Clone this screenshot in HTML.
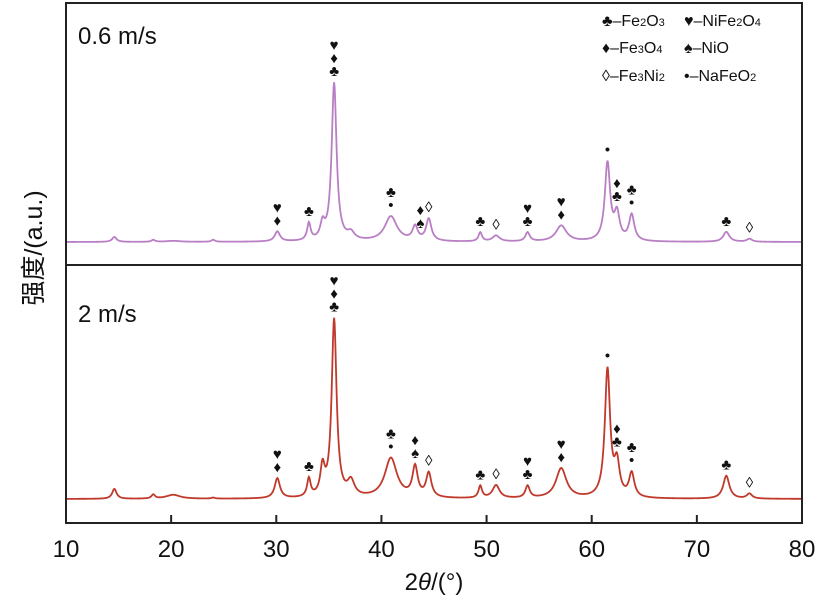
<!DOCTYPE html>
<html><head><meta charset="utf-8"><style>
body{margin:0;background:#fff}
svg{display:block;font-family:"Liberation Sans","Noto Sans CJK SC",sans-serif}
</style></head><body>
<svg id="chart" width="827" height="602" viewBox="0 0 827 602" xmlns="http://www.w3.org/2000/svg">
<rect x="0" y="0" width="827" height="602" fill="#fff"/>
<g id="plot"></g>
<rect x="66" y="3" width="736" height="520" fill="none" stroke="#222" stroke-width="2"/>
<line x1="66" y1="265" x2="802" y2="265" stroke="#222" stroke-width="2"/>
<text x="78" y="44" font-size="24" fill="#111">0.6 m/s</text>
<text x="78" y="322" font-size="24" fill="#111">2 m/s</text>
<text transform="translate(42,248) rotate(-90)" text-anchor="middle" font-size="25" fill="#111">强度/(a.u.)</text>
<text x="434" y="590" text-anchor="middle" font-size="24" fill="#111">2<tspan font-style="italic">θ</tspan>/(°)</text>
<g font-size="16" fill="#111">
<text x="602" y="26">♣–Fe<tspan font-size="11">2</tspan>O<tspan font-size="11">3</tspan></text>
<text x="684" y="26">♥–NiFe<tspan font-size="11">2</tspan>O<tspan font-size="11">4</tspan></text>
<text x="602" y="53">♦–Fe<tspan font-size="11">3</tspan>O<tspan font-size="11">4</tspan></text>
<text x="684" y="53">♠–NiO</text>
<text x="602" y="81">◊–Fe<tspan font-size="11">3</tspan>Ni<tspan font-size="11">2</tspan></text>
<text x="684" y="81">•–NaFeO<tspan font-size="11">2</tspan></text>
</g>
</svg>
<script>
const xTicks=[10,20,30,40,50,60,70,80];
const peakPos=[14.6,18.3,20.2,24,30.1,33.1,34.4,35.5,37.1,40.9,43.2,44.5,49.4,50.9,53.9,57.1,61.5,62.4,63.8,72.8,75];
const peakWidth=[0.25,0.2,0.8,0.2,0.3,0.2,0.25,0.28,0.4,0.7,0.3,0.3,0.2,0.4,0.25,0.6,0.3,0.3,0.3,0.35,0.3];
const topHeights=[5,2,1,2,10,17,15,158,7,25,14,22,9,6,9,16,78,26,26,10,3];
const botHeights=[10,4,4,1,20,18,28,178,15,40,30,24,12,13,12,30,128,32,24,23,5];
const topMarks=[[30.1,"♦♥"],[33.1,"♣"],[35.5,"♣♦♥"],[40.9,"•♣"],[43.7,"♠♦"],[44.5,"◊"],[49.4,"♣"],[50.9,"◊"],[53.9,"♣♥"],[57.1,"♦♥"],[61.5,"•"],[62.4,"♣♦"],[63.8,"•♣"],[72.8,"♣"],[75,"◊"]];
const botMarks=[[30.1,"♦♥"],[33.1,"♣"],[35.5,"♣♦♥"],[40.9,"•♣"],[43.2,"♠♦"],[44.5,"◊"],[49.4,"♣"],[50.9,"◊"],[53.9,"♣♥"],[57.1,"♦♥"],[61.5,"•"],[62.4,"♣♦"],[63.8,"•♣"],[72.8,"♣"],[75,"◊"]];
const NS="http://www.w3.org/2000/svg";
const plot=document.getElementById('plot');
const xS=v=>66+(v-10)/70*736;
function inten(x,h){let s=0;for(let i=0;i<peakPos.length;i++){const d=(x-peakPos[i])/peakWidth[i];s+=h[i]/(1+d*d);}return s;}
function drawSeries(h,base,color,name,marks){
  let d="";
  for(let x=10;x<=80.001;x+=0.05){d+=(d?"L":"M")+xS(x).toFixed(2)+","+(base-inten(x,h)).toFixed(2);}
  const p=document.createElementNS(NS,'path');
  p.setAttribute('d',d);p.setAttribute('fill','none');p.setAttribute('stroke',color);p.setAttribute('stroke-width','1.8');
  
  
  plot.appendChild(p);
  marks.forEach(m=>{
    const top=base-inten(m[0],h)-6;
    const chars=m[1].split("");
    chars.forEach((c,k)=>{
      const t=document.createElementNS(NS,'text');
      t.setAttribute('x',xS(m[0]));t.setAttribute('y',top-k*13);
      t.setAttribute('text-anchor','middle');t.setAttribute('font-size','15');t.setAttribute('fill','#111');
      t.textContent=c;
      
      
      plot.appendChild(t);
    });
  });
}
drawSeries(topHeights,242,'#b97fc4','series-0-6ms',topMarks);
drawSeries(botHeights,499,'#c0392b','series-2ms',botMarks);
xTicks.forEach(v=>{
  const l=document.createElementNS(NS,'line');
  l.setAttribute('x1',xS(v));l.setAttribute('x2',xS(v));l.setAttribute('y1',523);l.setAttribute('y2',515);
  l.setAttribute('stroke','#222');l.setAttribute('stroke-width','2');
  
  
  plot.appendChild(l);
  const t=document.createElementNS(NS,'text');
  t.setAttribute('x',xS(v));t.setAttribute('y',557);t.setAttribute('text-anchor','middle');t.setAttribute('font-size','24');t.setAttribute('fill','#111');
  t.textContent=v;
  
  
  plot.appendChild(t);
});
</script>
</body></html>
